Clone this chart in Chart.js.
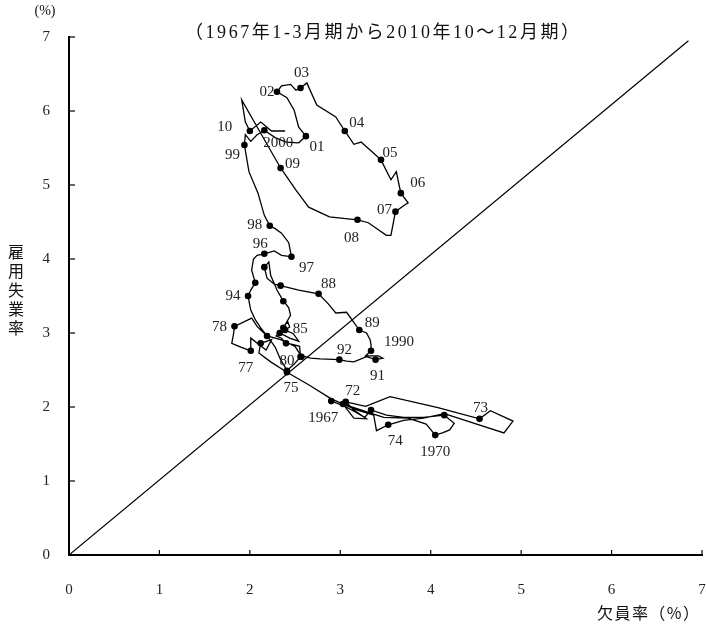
<!DOCTYPE html>
<html><head><meta charset="utf-8">
<script src="https://cdn.jsdelivr.net/npm/chart.js@4/dist/chart.umd.min.js"></script>
<style>html,body{margin:0;padding:0;background:#fff;}#wrap{width:706px;height:625px;}</style>
</head><body><div id="wrap"><canvas id="c" width="706" height="625"></canvas></div>
<script>
// 欠員率 (%) — horizontal
const vacancy = [
2.90,3.05,3.17,3.27,3.34,3.51,3.70,3.92,4.15,4.26,4.21,4.13,4.05,3.95,3.75,3.48,
3.03,3.15,3.29,3.15,3.06,3.28,3.55,4.08,4.54,4.66,4.91,4.81,4.15,3.92,3.70,3.53,
3.40,3.37,3.18,2.90,2.65,2.41,2.23,2.10,2.12,2.24,2.18,2.01,2.01,1.90,1.80,1.82,
1.83,2.02,2.08,2.13,2.19,2.28,2.34,2.39,2.41,2.49,2.56,2.55,2.46,2.40,2.35,2.29,
2.31,2.33,2.44,2.54,2.48,2.39,2.44,2.42,2.39,2.37,2.45,2.43,2.40,2.37,2.30,2.23,
2.21,2.16,2.19,2.27,2.34,2.54,2.76,2.87,2.95,3.07,3.21,3.29,3.33,3.34,3.34,3.28,
3.42,3.47,3.39,3.29,3.15,3.07,2.99,2.78,2.67,2.61,2.57,2.50,2.34,2.19,2.12,2.06,
2.01,1.98,2.01,2.04,2.06,2.02,2.04,2.08,2.16,2.27,2.35,2.41,2.46,2.43,2.35,2.28,
2.22,2.16,2.09,1.99,1.94,1.95,2.01,2.08,2.16,2.28,2.40,2.54,2.62,2.54,2.49,2.41,
2.30,2.35,2.45,2.51,2.56,2.63,2.74,2.95,3.05,3.15,3.23,3.37,3.45,3.56,3.62,3.65,
3.67,3.75,3.70,3.61,3.56,3.51,3.31,3.19,2.88,2.65,2.51,2.34,2.12,1.91,1.95,2.00,
2.12,2.24,2.39];
// 雇用失業率 (%) — vertical
const unemployment = [
2.08,2.01,1.93,1.86,1.96,1.89,1.86,1.86,1.89,1.78,1.69,1.65,1.62,1.77,1.85,1.86,
2.04,1.85,1.84,1.96,2.07,2.01,2.14,1.99,1.84,1.95,1.81,1.65,1.91,1.85,1.82,1.76,
1.68,1.89,1.96,2.11,2.30,2.47,2.61,2.73,2.86,2.91,2.77,2.93,2.76,2.81,2.86,2.99,
3.09,3.20,3.09,3.03,2.96,2.81,2.64,2.54,2.49,2.58,2.68,2.82,2.85,2.86,2.93,2.96,
2.99,3.00,2.93,2.89,2.99,3.04,3.08,3.15,3.11,3.07,3.24,3.34,3.39,3.43,3.58,3.78,
3.96,3.89,3.74,3.66,3.64,3.58,3.53,3.39,3.27,3.28,3.04,3.00,2.91,2.84,2.76,2.69,
2.69,2.66,2.64,2.68,2.61,2.62,2.64,2.65,2.66,2.68,2.68,2.82,2.91,2.96,3.07,3.18,
3.31,3.50,3.58,3.64,3.68,3.85,4.00,4.05,4.07,4.11,4.05,4.04,4.03,4.22,4.35,4.41,
4.45,4.59,4.89,5.18,5.54,5.68,5.59,5.68,5.74,5.64,5.58,5.57,5.66,5.78,6.01,6.18,
6.26,6.34,6.36,6.28,6.31,6.38,6.08,5.92,5.73,5.55,5.58,5.43,5.34,5.07,5.18,5.00,
4.89,4.76,4.72,4.64,4.32,4.32,4.49,4.53,4.57,4.70,4.93,5.23,5.70,6.15,5.85,5.73,
5.85,5.73,5.73];
// annual marks: '' = no mark, '-' = mark without label, other = mark with that label
const marks = [
'1967','','','','-','','','','-','','','','1970','','','',
'-','','','','72','','','','73','','','','','','','74',
'','','','','','75','','','-','','','','77','','','',
'78','','','','-','','','','80','','-','','','-','','',
'','-','','','','-','','','','85','','','','-','','',
'','-','','','-','','88','','','','89','','','','1990','',
'','','91','','','','92','','','','-','','','','','',
'','94','','','-','','','','96','','','','97','','','',
'98','','','','99','','','','2000','','','','01','','','',
'02','','','','03','','','','04','','','','05','','','',
'06','','','07','','','','08','','','','09','','','','10',
'','',''];
const xTickValues = [0,1,2,3,4,5,6,7];
const yTickValues = [0,1,2,3,4,5,6,7];
const diagonalX = [0, 6.85];
const diagonalY = [0, 6.95];
const titleText = '（1967年1-3月期から2010年10～12月期）';
const xTitle = '欠員率（%）';
const yTitle = '雇用失業率';
const yUnit = '(%)';

// label offsets (px) relative to mark
const labelOffset = {
'1967':[-8,17],'72':[7,-11],'73':[1,-11],'74':[7,16],'1970':[0,17],'75':[4,16],'80':[0,-10],
'77':[-5,17],'78':[-15,1],'85':[17,1],'94':[-15,0],'88':[10,-10],'89':[13,-7],'1990':[28,-9],
'91':[2,16],'92':[5,-10],'96':[-4,-10],'97':[15,11],'98':[-15,-1],'99':[-12,10],'2000':[14,13],
'01':[11,11],'02':[-10,0],'03':[1,-15],'04':[12,-8],'05':[9,-7],'06':[17,-10],'07':[-11,-2],
'08':[-6,18],'09':[12,-4],'10':[-25,-4]};

const SERIF = '"Liberation Serif","Noto Sans CJK JP",serif';
const CJK = '"Noto Sans CJK JP","Liberation Serif",sans-serif';

function drawSpaced(ctx, text, cx, cy, targetW) {
  const chars = Array.from(text);
  const ws = chars.map(c => ctx.measureText(c).width);
  const total = ws.reduce((a,b)=>a+b,0);
  const gap = chars.length > 1 ? (targetW - total) / (chars.length - 1) : 0;
  let x = cx - targetW/2;
  ctx.textAlign = 'left';
  chars.forEach((c,i)=>{ ctx.fillText(c, x, cy); x += ws[i] + gap; });
}

const decor = {
  id: 'decor',
  afterDatasetsDraw(chart) {
    const ctx = chart.ctx, xs = chart.scales.x, ys = chart.scales.y;
    ctx.save();
    ctx.strokeStyle = '#000'; ctx.lineWidth = 1.2;
    // inward tick marks
    xTickValues.forEach(v => { if (v===0) return; const px = xs.getPixelForValue(v);
      ctx.beginPath(); ctx.moveTo(px, ys.bottom); ctx.lineTo(px, ys.bottom-5); ctx.stroke(); });
    yTickValues.forEach(v => { if (v===0) return; const py = ys.getPixelForValue(v);
      ctx.beginPath(); ctx.moveTo(xs.left, py); ctx.lineTo(xs.left+6, py); ctx.stroke(); });
    // year labels
    ctx.fillStyle = '#222';
    ctx.font = '15px ' + SERIF;
    ctx.textAlign = 'center'; ctx.textBaseline = 'middle';
    marks.forEach((m,i) => {
      if (!m || m === '-') return;
      const off = labelOffset[m] || [8,-8];
      const px = xs.getPixelForValue(vacancy[i]), py = ys.getPixelForValue(unemployment[i]);
      ctx.fillText(m, px + off[0], py + off[1]);
    });
    // texts
    ctx.fillStyle = '#111';
    ctx.font = '18px ' + SERIF;
    drawSpaced(ctx, titleText, 382, 33, 394);
    ctx.font = '16px ' + CJK;
    drawSpaced(ctx, xTitle, 648, 613, 102);
    ctx.font = '14px ' + SERIF;
    ctx.textAlign = 'center';
    ctx.fillText(yUnit, 45, 11);
    ctx.font = '16px ' + CJK;
    Array.from(yTitle).forEach((c,i) => ctx.fillText(c, 16, 252 + i*19));
    ctx.restore();
  }
};

const lineData = vacancy.map((v,i) => ({x: v, y: unemployment[i]}));
const diagData = diagonalX.map((v,i) => ({x: v, y: diagonalY[i]}));

new Chart(document.getElementById('c'), {
  type: 'scatter',
  data: { datasets: [
    { data: diagData, showLine: true, borderColor: '#000', borderWidth: 1.2, pointRadius: 0, order: 2 },
    { data: lineData, showLine: true, borderColor: '#000', borderWidth: 1.3, tension: 0,
      pointRadius: marks.map(m => m ? 3.3 : 0), pointBackgroundColor: '#000', pointBorderColor: '#000',
      pointBorderWidth: 0, order: 1 }
  ]},
  options: {
    responsive: false, animation: false, devicePixelRatio: 1,
    layout: { padding: { top: 37, right: 1, left: 0, bottom: 0 } },
    plugins: { legend: { display: false }, tooltip: { enabled: false }, title: { display: false } },
    scales: {
      x: { type: 'linear', min: 0, max: 7,
        afterBuildTicks: s => { s.ticks = xTickValues.map(v => ({value: v})); },
        ticks: { color: '#222', font: { family: SERIF, size: 15 }, padding: 26, maxRotation: 0, autoSkip: false },
        grid: { display: false, drawTicks: false },
        border: { display: true, color: '#000', width: 2 },
        afterFit: s => { s.height = 70; s.paddingLeft = 0; s.paddingRight = 0; } },
      y: { type: 'linear', min: 0, max: 7,
        afterBuildTicks: s => { s.ticks = yTickValues.map(v => ({value: v})); },
        ticks: { color: '#222', font: { family: SERIF, size: 15 }, padding: 19, autoSkip: false },
        grid: { display: false, drawTicks: false },
        border: { display: true, color: '#000', width: 2 },
        afterFit: s => { s.width = 69; s.paddingTop = 0; s.paddingBottom = 0; } }
    }
  },
  plugins: [decor]
});
</script></body></html>
